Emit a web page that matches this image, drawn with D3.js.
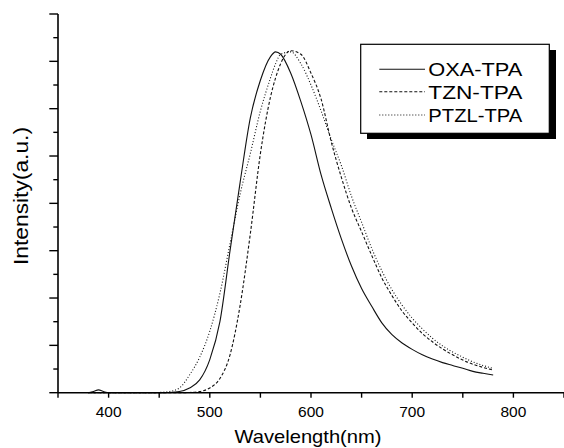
<!DOCTYPE html>
<html><head><meta charset="utf-8">
<script src="https://cdn.jsdelivr.net/npm/d3@7"></script>
<style>html,body{margin:0;padding:0;background:#fff;}</style>
</head><body>
<svg id="c" width="564" height="448"></svg>
<script>
const seriesNames = ["OXA-TPA", "TZN-TPA", "PTZL-TPA"];
const wavelengths = [380,385,390,395,400,410,420,430,440,450,460,470,480,490,500,510,520,530,540,550,560,565,570,580,590,600,610,620,630,640,650,660,670,680,690,700,710,720,730,740,750,760,770,780];
const oxa  = [0,0.05,0.12,0.05,0,0,0,0,0,0,0.01,0.05,0.2,0.54,1.4,3.0,6.0,8.9,11.6,13.2,14.2,14.4,14.3,13.5,12.3,10.9,9.2,7.8,6.5,5.35,4.4,3.65,2.95,2.45,2.1,1.83,1.6,1.42,1.27,1.15,1.03,0.9,0.82,0.75];
const tzn  = [0,0,0,0,0,0,0,0,0,0,0,0,0.01,0.05,0.2,0.6,1.6,3.7,6.7,10.1,12.5,13.3,13.9,14.45,14.3,13.5,12.4,10.6,9.1,7.8,6.8,5.8,4.85,4.1,3.45,2.95,2.5,2.15,1.85,1.6,1.38,1.2,1.07,0.96];
const ptzl = [0,0,0,0,0,0,0,0,0,0.01,0.05,0.2,0.75,1.5,2.6,4.2,6.3,8.4,10.1,11.9,13.3,13.9,14.3,14.4,13.9,13.0,11.9,10.7,9.6,8.3,7.2,6.1,5.15,4.35,3.7,3.15,2.7,2.3,1.98,1.72,1.5,1.3,1.15,1.03];
const xTicks = [350,400,450,500,550,600,650,700,750,800,850];
const xTickLabels = ["400","500","600","700","800"];

const svg = d3.select("#c");
const x = d3.scaleLinear().domain([350, 850]).range([58, 564]);
const y = d3.scaleLinear().domain([0, 16]).range([392.7, 14]);
const font = "Arial, 'Liberation Sans', sans-serif";

// curves
const series = [
  {name: seriesNames[0], vals: oxa, dash: null},
  {name: seriesNames[1], vals: tzn, dash: "3,2"},
  {name: seriesNames[2], vals: ptzl, dash: "1,2"}
];
const line = d3.line().x(d => x(d[0])).y(d => y(d[1])).curve(d3.curveMonotoneX);
series.forEach(s => {
  svg.append("path")
    .datum(wavelengths.map((w, i) => [w, s.vals[i]]))
    .attr("d", line)
    .attr("fill", "none")
    .attr("stroke", "#111")
    .attr("stroke-width", 1.1)
    .attr("stroke-dasharray", s.dash);
});

// x axis
const xAxis = svg.append("g").attr("transform", `translate(0,${y(0)})`);
xAxis.append("line").attr("x1", x(350)).attr("x2", 564).attr("stroke", "#000").attr("stroke-width", 1.6);
xTicks.forEach(t => {
  xAxis.append("line").attr("x1", x(t)).attr("x2", x(t)).attr("y1", 0).attr("y2", 5)
    .attr("stroke", "#000").attr("stroke-width", 1.4);
});
xTickLabels.forEach(l => {
  xAxis.append("text").attr("x", x(+l)).attr("y", 24.5).attr("text-anchor", "middle")
    .attr("font-family", font).attr("font-size", 15.5).attr("fill", "#000").text(l);
});
svg.append("text").attr("x", 308).attr("y", 443).attr("text-anchor", "middle")
  .attr("font-family", font).attr("font-size", 18.5)
  .attr("textLength", 147).attr("lengthAdjust", "spacingAndGlyphs").text("Wavelength(nm)");

// y axis
const yAxis = svg.append("g").attr("transform", `translate(${x(350)},0)`);
yAxis.append("line").attr("y1", y(16)).attr("y2", y(0)).attr("stroke", "#000").attr("stroke-width", 1.6);
d3.range(0, 17).forEach(v => {
  const major = v % 2 === 0;
  yAxis.append("line").attr("x1", major ? -8.7 : -4.7).attr("x2", 0)
    .attr("y1", y(v)).attr("y2", y(v)).attr("stroke", "#000").attr("stroke-width", 1.4);
});
svg.append("text").attr("transform", "translate(28,196) rotate(-90)").attr("text-anchor", "middle")
  .attr("font-family", font).attr("font-size", 19.5)
  .attr("textLength", 138).attr("lengthAdjust", "spacingAndGlyphs").text("Intensity(a.u.)");

// legend
const lg = svg.append("g");
lg.append("rect").attr("x", 367).attr("y", 50).attr("width", 189).attr("height", 89).attr("fill", "#000");
lg.append("rect").attr("x", 360.7).attr("y", 44.3).attr("width", 188.6).attr("height", 89)
  .attr("fill", "#fff").attr("stroke", "#000").attr("stroke-width", 1.2);
const ly = [69.3, 91.7, 115];
series.forEach((s, i) => {
  lg.append("line").attr("x1", 379.3).attr("x2", 425).attr("y1", ly[i]).attr("y2", ly[i])
    .attr("stroke", "#111").attr("stroke-width", 1.1).attr("stroke-dasharray", s.dash);
  lg.append("text").attr("x", 428.3).attr("y", ly[i] + 7).attr("font-family", font)
    .attr("font-size", 19).attr("textLength", 94).attr("lengthAdjust", "spacingAndGlyphs").text(s.name);
});
</script>
</body></html>
